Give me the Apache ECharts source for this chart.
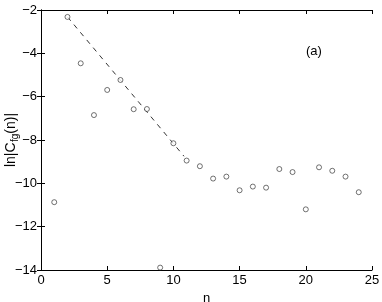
<!DOCTYPE html>
<html><head><meta charset="utf-8">
<script src="https://cdn.jsdelivr.net/npm/echarts@6/dist/echarts.min.js"></script>
<style>html,body{margin:0;padding:0;background:#fff}#c{width:382px;height:302px}</style>
</head><body><div id="c"></div>
<script>
const nValues = [1,2,3,4,5,6,7,8,9,10,11,12,13,14,15,16,17,18,19,20,21,22,23,24];
const lnC = [-10.87,-2.32,-4.46,-6.85,-5.69,-5.23,-6.58,-6.57,-13.89,-8.15,-8.95,-9.21,-9.78,-9.69,-10.32,-10.15,-10.2,-9.34,-9.48,-11.2,-9.26,-9.42,-9.69,-10.41];
const fitX = [2, 10.8];
const fitY = [-2.32, -8.75];
const xTicks = [0,5,10,15,20,25];
const yTicks = [-14,-12,-10,-8,-6,-4,-2];
const yLabelParts = ['ln|C', 'fg', '(n)|'];

const F = 'Liberation Sans, Arial, Helvetica, sans-serif';
const ctx = document.createElement('canvas').getContext('2d');
function w(t, s){ ctx.font = s + 'px ' + F; return ctx.measureText(t).width; }
const sizes = [14, 10, 14];
const widths = yLabelParts.map((t,i)=>w(t,sizes[i]) + (i===0?0.5:0));
const total = widths.reduce((a,b)=>a+b,0);
let off = 0;
const labelChildren = yLabelParts.map((t,i)=>{
  const el = {type:'text',x:off,y:(i===1?4.5:0),
    style:{text:t,fill:'#000',font:sizes[i]+'px '+F,align:'left',verticalAlign:'middle'}};
  off += widths[i];
  return el;
});

const chart = echarts.init(document.getElementById('c'));
const axBase = {
  axisLine:{show:true,lineStyle:{color:'#000',width:1}},
  axisTick:{show:true,inside:true,length:4,lineStyle:{color:'#000',width:1}},
  splitLine:{show:false}
};
chart.setOption({
  animation:false,
  backgroundColor:'#fff',
  grid:{left:41,top:10,right:10,bottom:32,containLabel:false,outerBoundsMode:'none'},
  xAxis:[
    Object.assign({type:'value',min:xTicks[0],max:xTicks[xTicks.length-1],interval:5,position:'bottom',
      axisLabel:{color:'#000',fontFamily:F,fontSize:13,margin:4},
      name:'n',nameLocation:'middle',nameGap:19,nameTextStyle:{color:'#000',fontFamily:F,fontSize:13}},axBase),
    Object.assign({type:'value',min:xTicks[0],max:xTicks[xTicks.length-1],interval:5,position:'top',
      axisLabel:{show:false}},axBase)
  ],
  yAxis:[
    Object.assign({type:'value',min:yTicks[0],max:yTicks[yTicks.length-1],interval:2,position:'left',
      axisLabel:{color:'#000',fontFamily:F,fontSize:13,margin:4,formatter:v=>String(v).replace('-','\u2212')}},axBase),
    Object.assign({type:'value',min:yTicks[0],max:yTicks[yTicks.length-1],interval:2,position:'right',
      axisLabel:{show:false}},axBase)
  ],
  graphic:[
    {type:'text',left:306,top:45,style:{text:'(a)',fill:'#000',font:'13px '+F}},
    {type:'group',x:11,y:140+total/2,rotation:Math.PI/2,children:labelChildren}
  ],
  series:[
    {type:'line',data:fitX.map((x,i)=>[x,fitY[i]]),symbol:'none',
     lineStyle:{color:'#333',width:1,type:[5,5]},z:1},
    {type:'scatter',data:nValues.map((n,i)=>[n,lnC[i]]),symbol:'circle',symbolSize:5,
     itemStyle:{color:'#fff',borderColor:'#222',borderWidth:0.8},z:2}
  ]
});
</script></body></html>
